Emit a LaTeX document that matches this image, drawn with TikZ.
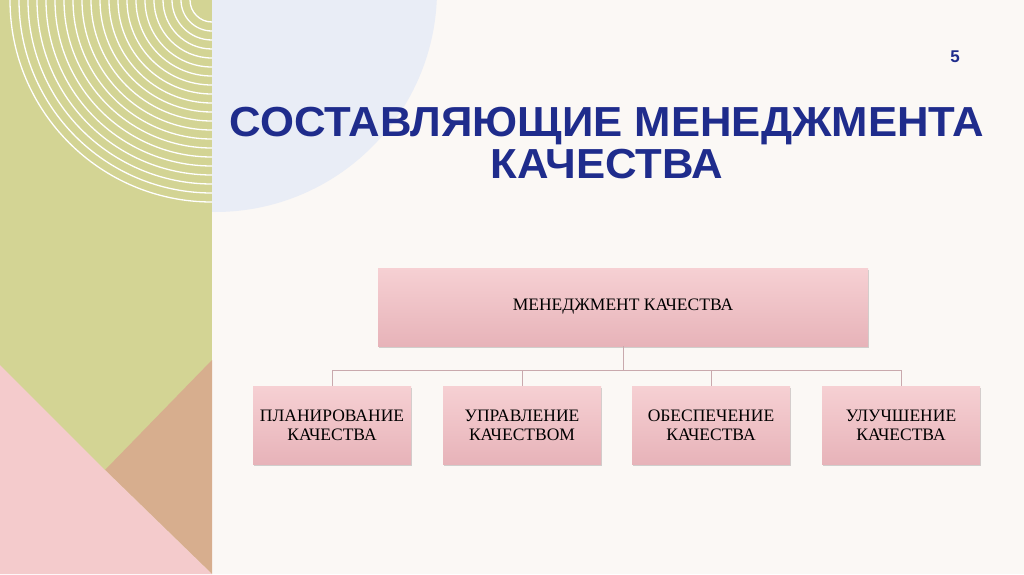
\documentclass[tikz,border=0pt]{standalone}
\usepackage{fontspec}
\setmainfont{Liberation Serif}
\newfontfamily\titlefont{Liberation Sans}
\usetikzlibrary{shadows}
\definecolor{bg}{HTML}{FBF8F5}
\definecolor{green}{HTML}{D3D494}
\definecolor{pinkbg}{HTML}{F4CBCC}
\definecolor{tan}{HTML}{D7AE8E}
\definecolor{bluec}{HTML}{E9EDF6}
\definecolor{titleblue}{HTML}{1F2C8C}
\definecolor{boxtop}{HTML}{F6D0D3}
\definecolor{boxbot}{HTML}{E7B3B9}
\definecolor{linec}{HTML}{C9A9AD}
\tikzset{
  box/.style={rectangle, top color=boxtop, bottom color=boxbot, draw=none,
    minimum width=158pt, minimum height=78pt, align=center, font=\fontsize{17.5}{19}\selectfont,
    drop shadow={shadow xshift=1pt, shadow yshift=-1.5pt, opacity=0.35}},
  conn/.style={draw=linec, line width=0.8pt}
}
\begin{document}
\begin{tikzpicture}[x=1pt,y=-1pt]
\useasboundingbox (0,0) rectangle (1024,574);
\fill[bg] (0,0) rectangle (1024,574);
\begin{scope}
\clip (212,0) rectangle (1024,574);
\fill[bluec] (215,-10) circle (222);
\end{scope}
\fill[green] (0,0) rectangle (212,574);
\begin{scope}
\clip (0,0) rectangle (212,574);
\foreach \r in {22,31,...,210} \draw[white, line width=1.3pt] (212,0) circle (\r);
\end{scope}
\fill[tan] (212,360) -- (105,470) -- (212,574) -- cycle;
\fill[pinkbg] (0,365) -- (105,470) -- (212,574) -- (0,574) -- cycle;
\node[font=\titlefont\bfseries\fontsize{17}{18}\selectfont, text=titleblue] (num) at (955,57) {5};
\node[font=\titlefont\bfseries\fontsize{42}{43}\selectfont, text=titleblue, align=center] (title) at (607,143)
  {\scalebox{1.04}[1]{СОСТАВЛЯЮЩИЕ МЕНЕДЖМЕНТА}\\[-1pt]\scalebox{1.04}[1]{КАЧЕСТВА}};
\node[box, minimum width=490pt] (top) at (623,307) {МЕНЕДЖМЕНТ КАЧЕСТВА};
\node[box] (b1) at (332,425) {ПЛАНИРОВАНИЕ\\КАЧЕСТВА};
\node[box] (b2) at (522,425) {УПРАВЛЕНИЕ\\КАЧЕСТВОМ};
\node[box] (b3) at (711,425) {ОБЕСПЕЧЕНИЕ\\КАЧЕСТВА};
\node[box] (b4) at (901,425) {УЛУЧШЕНИЕ\\КАЧЕСТВА};
\coordinate (hub) at (623,370);
\draw[conn] (top.south) -- (hub);
\foreach \b in {b1,b2,b3,b4} \draw[conn] (hub) -| (\b.north);
\end{tikzpicture}
\end{document}
